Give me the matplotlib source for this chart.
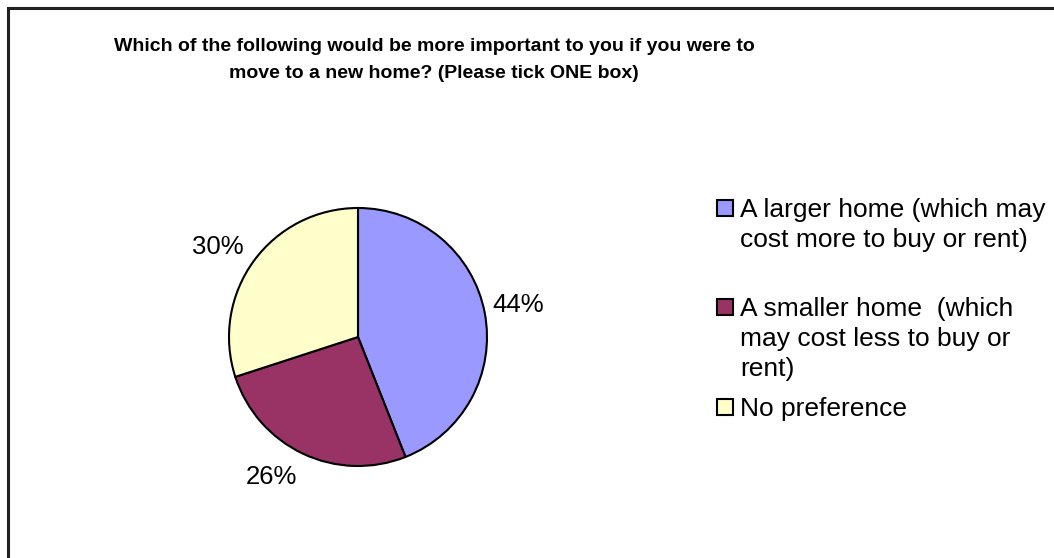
import numpy as np
import matplotlib.pyplot as plt
from matplotlib.patches import Rectangle

plt.rcParams['font.family'] = ['Liberation Sans', 'DejaVu Sans']

# Survey answers
labels = ['A larger home (which may\ncost more to buy or rent)',
          'A smaller home  (which\nmay cost less to buy or\nrent)',
          'No preference']
shares = [44, 26, 30]
colors = ['#9999FF', '#993366', '#FFFFCC']
title = ('Which of the following would be more important to you if you were to\n'
         'move to a new home? (Please tick ONE box)')

W, H = 1054, 558
fig = plt.figure(figsize=(W / 100, H / 100), dpi=100)

# outer chart frame (right and bottom edges run off the image)
fig.patches.append(Rectangle((8 / W, -0.1), 1.2, 1 - 8.5 / H + 0.1, transform=fig.transFigure,
                             fill=False, edgecolor='#222222', linewidth=2.2))

fig.text(434 / W, 1 - 60 / H, title, ha='center', va='center', fontsize=14,
         fontweight='bold', linespacing=1.75)

# pie, centred at (358, 337) px with radius 129 px
cx, cy, r = 358, 337, 129
ax = fig.add_axes([(cx - r) / W, (H - cy - r) / H, 2 * r / W, 2 * r / H])
wedges, _ = ax.pie(shares, colors=colors, startangle=90, counterclock=False,
                   wedgeprops=dict(edgecolor='black', linewidth=1.5))
ax.set_xlim(-1, 1)
ax.set_ylim(-1, 1)
ax.axis('off')

# percentage labels just outside each wedge, anchored on the side facing the pie
for w, s in zip(wedges, shares):
    a = np.deg2rad((w.theta1 + w.theta2) / 2)
    x, y = np.cos(a), np.sin(a)
    ha = 'left' if x > 0 else 'right'
    if abs(y) < 0.3:
        ax.text(1.06 * x, 1.06 * y + 0.05, f'{s}%', ha=ha, va='center', fontsize=18.5)
    else:
        ax.text(1.1 * x, 1.1 * y, f'{s}%', ha=ha,
                va='baseline' if y > 0 else 'top', fontsize=18.5)

# legend: square marker next to the first line of each entry
tops = [208, 307, 407]
for lab, col, y in zip(labels, colors, tops):
    fig.patches.append(Rectangle((717 / W, 1 - (y + 8) / H), 16 / W, 16 / H,
                                 transform=fig.transFigure, facecolor=col,
                                 edgecolor='black', linewidth=1.5))
    fig.text(740 / W, 1 - (y - 10) / H, lab, ha='left', va='top', fontsize=19,
             linespacing=1.32)

fig.savefig('out.png', dpi=100)
